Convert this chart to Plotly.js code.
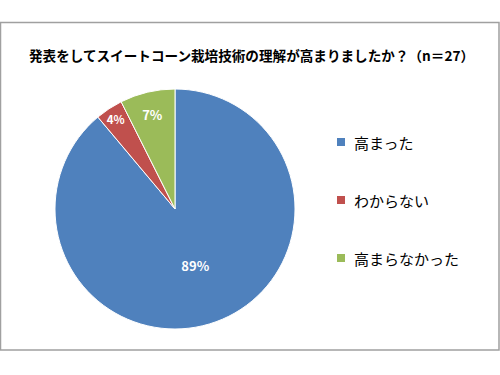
<!DOCTYPE html>
<html>
<head>
<meta charset="utf-8">
<script src="https://cdn.plot.ly/plotly-3.0.1.min.js"></script>
<style>html,body{margin:0;padding:0;background:#fff;}#chart{width:500px;height:375px;}</style>
</head>
<body>
<div id="chart"></div>
<script>
const titleText = '発表をしてスイートコーン栽培技術の理解が高まりましたか？（n＝27）';
const categories = ['高まった', 'わからない', '高まらなかった'];
const counts = [24, 1, 2];
const colors = ['#4F81BD', '#C0504D', '#9BBB59'];

const W = 500, H = 375;
const px = x => x / W;
const py = y => 1 - y / H;

const trace = {
  type: 'pie',
  labels: categories,
  values: counts,
  sort: false,
  direction: 'clockwise',
  rotation: 0,
  marker: {colors: colors, line: {color: '#ffffff', width: 1}},
  texttemplate: '%{percent:.0%}',
  textposition: 'inside',
  insidetextorientation: 'horizontal',
  textfont: {family: 'Noto Sans CJK JP', size: 13, color: '#ffffff', weight: 'bold'},
  domain: {x: [px(55), px(295)], y: [py(329), py(89)]},
  showlegend: false,
  hoverinfo: 'label+percent'
};

const shapes = [{
  type: 'rect', xref: 'paper', yref: 'paper',
  x0: px(0.5), x1: px(499), y0: py(350), y1: py(22.5),
  line: {color: '#a0a0a0', width: 1.5}, fillcolor: 'rgba(0,0,0,0)'
}];
const annotations = [];
const legendY = [142, 200, 258];
categories.forEach((c, i) => {
  shapes.push({
    type: 'rect', xref: 'paper', yref: 'paper',
    x0: px(337), x1: px(345), y0: py(legendY[i] + 4), y1: py(legendY[i] - 4),
    line: {width: 0}, fillcolor: colors[i]
  });
  annotations.push({
    xref: 'paper', yref: 'paper', x: px(352), y: py(legendY[i]),
    xanchor: 'left', yanchor: 'middle', showarrow: false, text: c,
    font: {family: 'Noto Sans CJK JP', size: 15, color: '#000000'}
  });
});

const layout = {
  width: W, height: H,
  margin: {l: 0, r: 0, t: 0, b: 0},
  paper_bgcolor: '#ffffff',
  title: {
    text: titleText, x: px(251.5), xanchor: 'center', y: py(56), yanchor: 'middle',
    yref: 'paper', xref: 'paper',
    font: {family: 'Noto Sans CJK JP', size: 13.6, color: '#000000', weight: 'bold'}
  },
  shapes: shapes,
  annotations: annotations,
  showlegend: false
};

Plotly.newPlot('chart', [trace], layout, {displayModeBar: false, staticPlot: true});
</script>
</body>
</html>
